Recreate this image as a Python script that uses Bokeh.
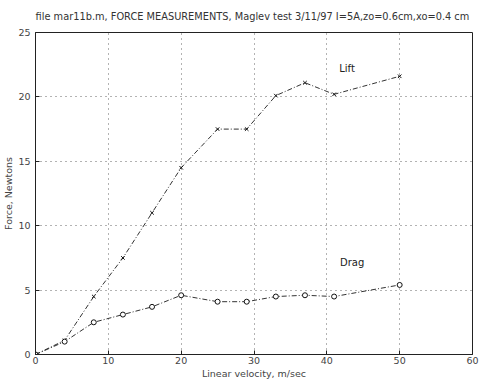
from bokeh.plotting import figure
from bokeh.models import Range1d, Label, Title
from bokeh.embed import file_html
from bokeh.resources import INLINE

velocity = [0, 4, 8, 12, 16, 20, 25, 29, 33, 37, 41, 50]
lift = [0, 1.1, 4.5, 7.5, 11.0, 14.5, 17.5, 17.5, 20.1, 21.1, 20.2, 21.6]
drag = [0, 1.0, 2.5, 3.1, 3.7, 4.6, 4.1, 4.1, 4.5, 4.6, 4.5, 5.4]
x_ticks = [0, 10, 20, 30, 40, 50, 60]
y_ticks = [0, 5, 10, 15, 20, 25]
title = "file mar11b.m, FORCE MEASUREMENTS, Maglev test 3/11/97  I=5A,zo=0.6cm,xo=0.4 cm"

FONT = "DejaVu Sans"

p = figure(frame_width=437, frame_height=322, output_backend="svg", toolbar_location=None,
           x_range=Range1d(0, 60), y_range=Range1d(0, 25),
           min_border_left=35, min_border_right=8, min_border_top=32, min_border_bottom=27)
p.title = Title(text=title, text_font=FONT, text_font_size="9.8px",
                text_font_style="normal", text_color="#333333", align="center",
                vertical_align="top", offset=0, standoff=17)
p.background_fill_color = "white"
p.border_fill_color = "white"
p.outline_line_color = "#222222"
p.outline_line_width = 1

for ax in (p.xaxis[0], p.yaxis[0]):
    ax.major_tick_in = 4
    ax.major_tick_out = 0
    ax.minor_tick_line_color = None
    ax.axis_line_color = "#222222"
    ax.major_tick_line_color = "#222222"
    ax.major_label_text_font = FONT
    ax.major_label_text_font_size = "9.5px"
    ax.major_label_text_color = "#444444"
    ax.axis_label_text_font = FONT
    ax.axis_label_text_font_size = "9.5px"
    ax.axis_label_text_font_style = "normal"
    ax.axis_label_text_color = "#444444"
    ax.axis_label_standoff = 1

p.xaxis[0].major_label_standoff = 2
p.yaxis[0].major_label_standoff = 5
p.xaxis[0].ticker = x_ticks
p.yaxis[0].ticker = y_ticks
p.xaxis[0].axis_label = "Linear velocity, m/sec"
p.yaxis[0].axis_label = "Force, Newtons"

p.xgrid.ticker = x_ticks
p.ygrid.ticker = y_ticks
p.grid.grid_line_color = "#666666"
p.grid.grid_line_dash = "1 4"
p.grid.grid_line_width = 1

p.line(velocity, lift, line_color="#333333", line_dash="5 2 1 2", line_width=1)
p.scatter(velocity, lift, marker="x", size=5, line_color="#111111")
p.line(velocity, drag, line_color="#333333", line_dash="5 2 1 2", line_width=1)
p.scatter(velocity, drag, marker="circle", size=5, line_color="#111111", fill_color="white")

p.add_layout(Label(x=41.7, y=21.8, text="Lift", text_font=FONT, text_font_size="10px",
                   text_color="#222222"))
p.add_layout(Label(x=41.8, y=6.7, text="Drag", text_font=FONT, text_font_size="10px",
                   text_color="#222222"))

open("out.html", "w").write(file_html(p, INLINE))
